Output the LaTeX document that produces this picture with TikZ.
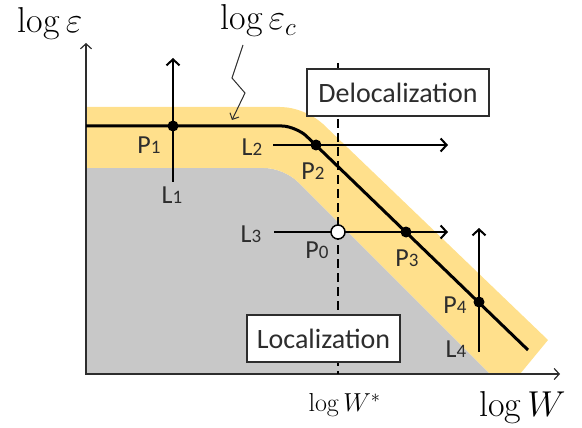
\RequirePackage{fix-cm}
\documentclass[tikz,border=0pt]{standalone}
\usepackage{fontspec}
\setsansfont{Carlito}
\usetikzlibrary{arrows.meta,positioning,calc}
\definecolor{band}{RGB}{255,224,140}
\definecolor{locgray}{RGB}{200,200,200}
\definecolor{ink}{RGB}{45,45,45}
\newcommand{\idx}[2]{#1{\fontsize{19}{19}\selectfont #2}}

\begin{document}
\begin{tikzpicture}[x=1pt, y=-1pt, font=\sffamily\fontsize{26}{26}\selectfont,
  lab/.style={inner sep=0pt, text=ink},
  mlab/.style={inner sep=0pt, font=\fontsize{#1}{#1}\selectfont},
  probe/.style={line width=2pt, -{Straight Barb[length=6pt,width=13pt,line width=2pt]}},
  dot/.style={circle, fill=black, inner sep=0pt, minimum size=11pt},
  region/.style={draw=ink, line width=1.2pt, fill=white, inner sep=0pt, minimum height=47pt,
    font=\sffamily\fontsize{28}{28}\selectfont, text=ink}]
\useasboundingbox (0,0) rectangle (582,428);
% localized part and critical band
\fill[locgray] (86,374) -- (86,168) -- (264,168) .. controls (276,168) and (290,174) .. (298,182) -- (490,374) -- cycle;
\fill[band] (86,107) -- (280,107) .. controls (295,107) and (312,114) .. (323,124) -- (548,340) -- (520,374) -- (490,374)
  -- (298,182) .. controls (290,174) and (276,168) .. (264,168) -- (86,168) -- cycle;
% axes
\coordinate (ytop) at (86,43);
\coordinate (orig) at (86,374);
\coordinate (xend) at (560,374);
\draw[ink, line width=1.2pt, {Straight Barb[length=5pt,width=11pt]}-{Straight Barb[length=5pt,width=11pt]}] (ytop) -- (orig) -- (xend);
% mobility edge
\draw[black, line width=3pt] (86,126) -- (282,126) .. controls (290,126) and (301.8,131.6) .. (306,135.7) -- (528,350);
\draw[black, line width=2pt, dash pattern=on 9pt off 5pt] (338,63) -- (338,374);
\node[region, minimum width=182pt] (deloc) at (398,92.5) {Delocalization};
\node[region, minimum width=153pt] (loc) at (323.5,338.5) {Localization};
% pointer to log eps_c
\coordinate (z1) at (243,45);
\coordinate (z2) at (232,78);
\coordinate (z3) at (245,93);
\coordinate (z4) at (232,120);
\draw[ink, line width=1pt, -{Straight Barb[length=5pt,width=10pt]}] (z1) -- (z2) -- (z3) -- (z4);
% paths L1--L4
\coordinate (P1) at (173,126);
\coordinate (P2) at (316,145);
\coordinate (P3) at (406,232);
\coordinate (P4) at (479,302);
\coordinate (P0) at (338,232);
\coordinate (L1a) at (173,182); \coordinate (L1b) at (173,58);
\coordinate (L2a) at (273,145); \coordinate (L2b) at (448,145);
\coordinate (L3a) at (274,232); \coordinate (L3b) at (448,232);
\coordinate (L4a) at (479,352); \coordinate (L4b) at (479,228);
\foreach \s in {1,2,3,4} \draw[probe] (L\s a) -- (L\s b);
\foreach \p in {1,2,3,4} \node[dot] at (P\p) {};
\node[circle, draw=black, line width=1.5pt, fill=white, inner sep=0pt, minimum size=14pt] (p0dot) at (P0) {};
% labels
\node[lab] (p1lab) at (149,145) {\idx{P}{1}};
\node[lab] (p2lab) at (313,171) {\idx{P}{2}};
\node[lab] (p3lab) at (407,258) {\idx{P}{3}};
\node[lab] (p4lab) at (455,305) {\idx{P}{4}};
\node[lab] (p0lab) at (317,250) {\idx{P}{0}};
\node[lab] (l1lab) at (172,195) {\idx{L}{1}};
\node[lab] (l2lab) at (252,147) {\idx{L}{2}};
\node[lab] (l3lab) at (251,234) {\idx{L}{3}};
\node[lab] (l4lab) at (456,349) {\idx{L}{4}};
\node[mlab=36] (yname) at (50,24) {$\log\varepsilon$};
\node[mlab=36] (ecname) at (258.5,21) {$\log\varepsilon_c$};
\node[mlab=26] (wstar) at (344.5,405.5) {$\log W^{*}$};
\node[mlab=36] (xname) at (522.5,407.5) {$\log W$};
\end{tikzpicture}
\end{document}
